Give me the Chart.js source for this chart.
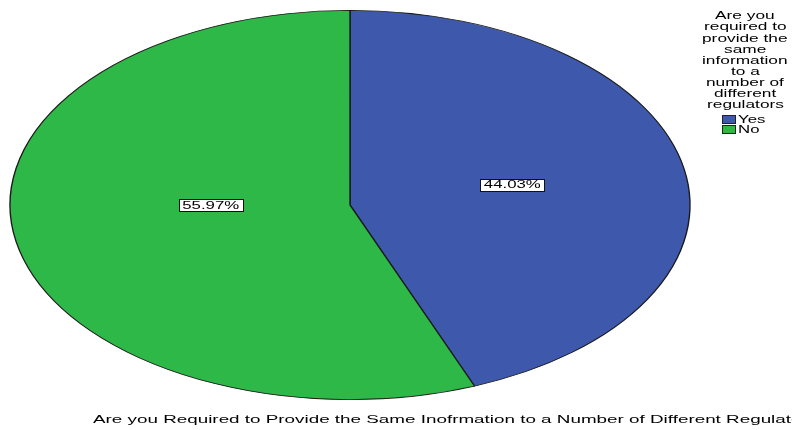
<!DOCTYPE html>
<html><head><meta charset="utf-8">
<script src="https://cdn.jsdelivr.net/npm/chart.js@4/dist/chart.umd.min.js"></script>
<style>
html,body{margin:0;padding:0;background:#fff;overflow:hidden;width:792px;height:430px;}
#wrap{position:relative;width:792px;height:430px;overflow:hidden;}
canvas{position:absolute;left:0;top:0;}
.t{position:absolute;font-family:"Liberation Sans",Arial,sans-serif;color:#000;white-space:nowrap;transform-origin:0 0;line-height:1;}
.box{position:absolute;width:12px;height:7px;border:1px solid #222;}
</style></head><body>
<div id="wrap"><canvas id="c" width="792" height="430"></canvas></div>
<script>
const categories = ['Yes', 'No'];
const percentages = [44.03, 55.97];
const legendTitleLines = ['Are you', 'required to', 'provide the', 'same', 'information', 'to a', 'number of', 'different', 'regulators'];
const captionText = 'Are you Required to Provide the Same Inofrmation to a Number of Different Regulators';
const colors = ['#3e58ac', '#2eb848'];

const FONT = '"Liberation Sans", Arial, sans-serif';
const RX = 340;          // horizontal radius of the stretched pie
const TEXT_SX = 1.68;    // horizontal stretch of texts
const labelOffsets = [{x: 12, y: -4}, {x: 11, y: -16}];

const stretchPlugin = {
  id: 'stretch',
  beforeDatasetsDraw(chart) {
    const a = chart.getDatasetMeta(0).data[0];
    const sx = RX / a.outerRadius;
    const ctx = chart.ctx;
    ctx.save();
    ctx.translate(a.x, a.y);
    ctx.scale(sx, 1);
    ctx.translate(-a.x, -a.y);
  },
  afterDatasetsDraw(chart) { chart.ctx.restore(); }
};

const labelPlugin = {
  id: 'pctLabels',
  afterDraw(chart) {
    const ctx = chart.ctx;
    const meta = chart.getDatasetMeta(0);
    meta.data.forEach((arc, i) => {
      const sx = RX / arc.outerRadius;
      const mid = (arc.startAngle + arc.endAngle) / 2;
      const f = 0.45;
      const px = arc.x + Math.cos(mid) * arc.outerRadius * f * sx + labelOffsets[i].x;
      const py = arc.y + Math.sin(mid) * arc.outerRadius * f + labelOffsets[i].y;
      const txt = percentages[i].toFixed(2) + '%';
      ctx.save();
      ctx.font = '10px ' + FONT;
      const w = ctx.measureText(txt).width * TEXT_SX;
      const bw = w + 7, bh = 12;
      ctx.fillStyle = '#fff';
      ctx.fillRect(Math.round(px - bw / 2) + 0.5, Math.round(py - bh / 2) + 0.5, Math.round(bw), bh);
      ctx.strokeStyle = '#111';
      ctx.lineWidth = 1;
      ctx.strokeRect(Math.round(px - bw / 2) + 0.5, Math.round(py - bh / 2) + 0.5, Math.round(bw), bh);
      ctx.translate(px, py + 0.5);
      ctx.scale(TEXT_SX, 1);
      ctx.fillStyle = '#000';
      ctx.textAlign = 'center';
      ctx.textBaseline = 'middle';
      ctx.fillText(txt, 0, 0);
      ctx.restore();
    });
  }
};

new Chart(document.getElementById('c'), {
  type: 'pie',
  data: {
    labels: categories,
    datasets: [{
      data: percentages,
      backgroundColor: colors,
      borderColor: '#1a1a1a',
      borderWidth: 0.8
    }]
  },
  options: {
    responsive: false,
    animation: false,
    layout: { padding: { left: 155, right: 247, top: 10, bottom: 30 } },
    plugins: { legend: { display: false }, tooltip: { enabled: false }, title: { display: false } }
  },
  plugins: [stretchPlugin, labelPlugin]
});

// HTML texts: legend title, legend items, caption
const wrap = document.getElementById('wrap');
function addText(text, size, sx, opts) {
  const d = document.createElement('div');
  d.className = 't';
  d.style.fontSize = size + 'px';
  d.textContent = text;
  wrap.appendChild(d);
  const w = d.getBoundingClientRect().width;
  let left = opts.left;
  if (opts.center !== undefined) left = opts.center - w * sx / 2;
  d.style.left = left + 'px';
  d.style.top = (opts.midY - size * 0.55) + 'px';
  d.style.transform = 'scaleX(' + sx + ')';
  return d;
}
legendTitleLines.forEach((line, i) => {
  addText(line, 10.3, TEXT_SX, { center: 745, midY: 17 + i * 11.1 });
});
categories.forEach((c, i) => {
  const b = document.createElement('div');
  b.className = 'box';
  b.style.left = '722px';
  b.style.top = (115 + i * 10) + 'px';
  b.style.background = colors[i];
  wrap.appendChild(b);
  addText(c, 10, TEXT_SX, { left: 738, midY: 120.5 + i * 10 });
});
// caption stretched so that "...Regulat" ends at the right edge
(function () {
  const cv = document.createElement('canvas').getContext('2d');
  cv.font = '10.5px ' + FONT;
  const prefix = captionText.slice(0, captionText.length - 3);
  const sx = (791 - 93) / cv.measureText(prefix).width;
  addText(captionText, 10.5, sx, { left: 93, midY: 420 });
})();
</script>
</body></html>
